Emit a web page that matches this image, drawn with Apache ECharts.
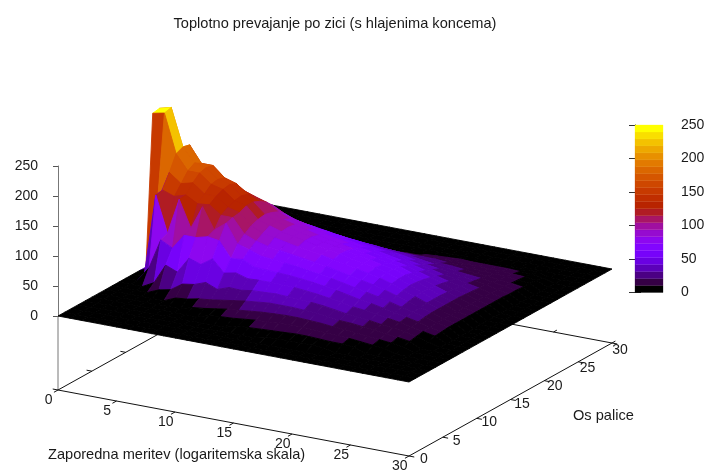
<!DOCTYPE html>
<html><head><meta charset="utf-8">
<style>html,body{margin:0;padding:0;background:#fff}#c{width:712px;height:470px}</style>
<script src="https://cdn.jsdelivr.net/npm/echarts@6/dist/echarts.min.js"></script></head>
<body><div id="c"></div>
<script>
const titleText='Toplotno prevajanje po zici (s hlajenima koncema)';
const xName='Zaporedna meritev (logaritemska skala)';
const yName='Os palice';
const xTicks=[0,5,10,15,20,25,30];
const yTicks=[0,5,10,15,20,25,30];
const zMax=250, levels=24;
// z[x][y]: temperature at measurement x, rod position y (0..30)
const z00=[0,0,0,0,0,0,0,0,0,0,0,0,0,0,250,252,60,0,0,0,0,0,0,0,0,0,0,0,0,0,0];
const z01=[0,0,0,0,0,0,0,0,0,0,0,0,10,115,254,257,170,40,5,0,0,0,0,0,0,0,0,0,0,0,0];
const z02=[0,0,0,0,0,0,0,0,0,0,25,140,142,165,190,195,192,120,45,8,0,0,0,0,0,0,0,0,0,0,0];
const z03=[0,0,0,0,0,0,0,0,0,10,75,80,135,150,165,172,165,120,65,15,0,0,0,0,0,0,0,0,0,0,0];
const z04=[0,0,0,0,0,0,0,0,8,43,65,140,141,155,165,168,165,130,80,30,8,0,0,0,0,0,0,0,0,0,0];
const z05=[0,0,0,0,0,0,0,0,12,35,90,96,130,140,150,152,148,125,90,45,12,0,0,0,0,0,0,0,0,0,0];
const z06=[0,0,0,0,0,0,0,8,25,62,90,135,132,140,145,147,142,125,100,60,22,8,0,0,0,0,0,0,0,0,0];
const z07=[0,0,0,0,0,0,0,10,28,55,95,100,118,125,130,132,128,118,98,68,32,12,0,0,0,0,0,0,0,0,0];
const z08=[0,0,0,0,0,0,6,14,35,68,92,115,118,120,125,125,120,112,100,78,52,28,10,0,0,0,0,0,0,0,0];
const z09=[0,0,0,0,0,0,8,16,27,48,66,84,94,102,106,108,105,100,90,76,58,38,18,7,0,0,0,0,0,0,0];
const z10=[0,0,0,0,0,6,11,19,34,52,68,78,86,93,99,100,97,92,83,72,58,42,26,11,0,0,0,0,0,0,0];
const z11=[0,0,0,0,0,8,14,22,33,46,59,71,81,89,93,94,92,87,79,69,57,44,30,15,6,0,0,0,0,0,0];
const z12=[0,0,0,0,0,9,16,25,36,47,58,69,78,85,89,89,87,82,75,66,55,43,30,17,7,0,0,0,0,0,0];
const z13=[0,0,0,0,6,11,18,27,37,47,57,67,75,81,85,85,82,78,71,63,53,42,31,19,9,0,0,0,0,0,0];
const z14=[0,0,0,0,7,13,20,29,38,47,56,65,72,78,81,81,78,74,67,60,51,41,30,20,11,0,0,0,0,0,0];
const z15=[0,0,0,0,8,14,21,29,37,46,54,62,69,75,78,78,74,70,64,57,49,40,30,21,12,6,0,0,0,0,0];
const z16=[0,0,0,5,9,15,22,29,36,44,52,59,66,71,74,73,70,66,60,54,46,38,29,20,13,7,0,0,0,0,0];
const z17=[0,0,0,5,10,16,22,28,35,42,49,56,62,67,70,69,66,62,57,51,44,36,28,20,13,8,0,0,0,0,0];
const z18=[0,0,0,6,11,16,21,27,33,39,46,52,58,63,66,65,62,58,53,47,41,34,27,20,14,9,0,0,0,0,0];
const z19=[0,0,0,6,11,15,20,25,30,36,42,48,54,59,62,61,58,54,49,43,37,31,25,20,15,10,5,0,0,0,0];
const z20=[0,0,0,6,10,14,18,22,27,32,38,44,50,55,58,58,55,50,45,39,33,28,23,18,14,11,7,0,0,0,0];
const z21=[0,0,0,5,9,13,17,21,25,30,35,40,45,49,51,51,48,44,40,35,30,26,22,17,13,10,7,0,0,0,0];
const z22=[0,0,0,0,9,12,15,19,23,27,31,35,39,42,44,43,41,38,34,30,27,23,20,16,13,10,7,0,0,0,0];
const z23=[0,0,0,0,7,10,13,17,20,24,27,30,33,35,36,36,34,32,29,27,24,21,18,15,12,10,7,0,0,0,0];
const z24=[0,0,0,0,0,8,11,14,18,21,23,25,27,28,28,28,27,26,25,23,21,19,16,14,12,10,7,0,0,0,0];
const z25=[0,0,0,0,0,6,9,12,15,17,19,21,22,22,22,22,22,21,20,19,18,16,14,13,11,9,6,0,0,0,0];
const z26=[0,0,0,0,0,0,6,9,11,13,14,15,15,15,15,15,15,15,15,14,14,13,12,11,10,8,5,0,0,0,0];
const z27=[0,0,0,0,0,0,0,0,6,9,10,11,11,11,11,11,11,11,11,11,10,10,9,9,8,6,0,0,0,0,0];
const z28=[0,0,0,0,0,0,0,0,0,0,0,0,0,0,0,0,0,0,0,0,0,0,0,0,0,0,0,0,0,0,0];
const z29=z28, z30=z28;
const heat=[z00,z01,z02,z03,z04,z05,z06,z07,z08,z09,z10,z11,z12,z13,z14,z15,z16,z17,z18,z19,z20,z21,z22,z23,z24,z25,z26,z27,z28,z29,z30];

const xStep=[351/30,66/30], yStep=[203/30,-113/30], zScale=0.6, baseZ=-(390-316)/zScale;
const view=(x,y,z)=>[x*xStep[0]+y*yStep[0], z-(x*xStep[1]+y*yStep[1])/zScale];
function colorOf(v){
  const i=Math.max(0,Math.min(levels-1,Math.floor(v/zMax*levels)));
  const g=i/(levels-1);
  const r=Math.sqrt(g),gg=g*g*g,b=Math.max(0,Math.sin(2*Math.PI*g));
  return 'rgb('+Math.round(r*255)+','+Math.round(gg*255)+','+Math.round(b*255)+')';
}
const quads=[];
for(let y=29;y>=0;y--)for(let x=0;x<30;x++)quads.push([x,y]);
const frame=[[0,0,30,0],[30,0,30,30],[0,0,0,30],[0,30,30,30]];
xTicks.forEach(t=>{frame.push([t,0,t,-0.6]);frame.push([t,30,t,30.5]);});
yTicks.forEach(t=>{frame.push([30,t,30.45,t]);frame.push([0,t,-0.45,t]);});
const bands=[];for(let i=0;i<levels;i++)bands.push(i);

const line=(p,q,stroke,w)=>({type:'line',shape:{x1:p[0],y1:p[1],x2:q[0],y2:q[1]},style:{stroke:stroke,lineWidth:w}});
const labelStyle={fontFamily:'Liberation Sans',fontSize:14,fill:'#1a1a1a'};
const tickLabel=(text,c,dx,dy)=>({type:'text',x:c[0]+dx,y:c[1]+dy,style:Object.assign({text:text,textAlign:'center',textVerticalAlign:'middle'},labelStyle)});
const chart=echarts.init(document.getElementById('c'),null,{renderer:'canvas'});
chart.setOption({
  animation:false,
  backgroundColor:'#fff',
  title:{text:titleText,left:330,top:11,textAlign:'center',textStyle:{fontFamily:'Liberation Sans',fontSize:14.6,fontWeight:'normal',color:'#1a1a1a'}},
  graphic:[
    {type:'text',left:48,top:447,style:{text:xName,fontFamily:'Liberation Sans',fontSize:14.6,fill:'#1a1a1a'}},
    {type:'text',left:573,top:408,style:{text:yName,fontFamily:'Liberation Sans',fontSize:14.6,fill:'#1a1a1a'}}
  ],
  grid:[
    {left:58,top:166,width:552,height:150},
    {left:635,top:125,width:28,height:167.5}
  ],
  xAxis:[
    {gridIndex:0,type:'value',min:0,max:552,show:false},
    {gridIndex:1,type:'value',min:0,max:1,show:false}
  ],
  yAxis:[
    {gridIndex:0,type:'value',min:0,max:zMax,interval:50,splitLine:{show:false},
     axisLine:{show:true,lineStyle:{color:'#777',width:1}},axisTick:{show:true,length:5,lineStyle:{color:'#555'}},
     axisLabel:{margin:20,fontFamily:'Liberation Sans',fontSize:14,color:'#1a1a1a'}},
    {gridIndex:1,type:'value',min:0,max:zMax,interval:50,position:'right',splitLine:{show:false},
     axisLine:{show:true,lineStyle:{color:'#666'}},axisTick:{show:true,length:6,lineStyle:{color:'#333'}},
     axisLabel:{margin:18,fontFamily:'Liberation Sans',fontSize:14,color:'#1a1a1a'}},
    {gridIndex:1,type:'value',min:0,max:zMax,interval:50,position:'left',splitLine:{show:false},
     axisLine:{show:true,lineStyle:{color:'#666'}},axisTick:{show:true,length:6,lineStyle:{color:'#333'}},axisLabel:{show:false}}
  ],
  series:[
    {type:'custom',coordinateSystem:'cartesian2d',xAxisIndex:0,yAxisIndex:0,z:1,silent:true,data:[[0]],
     renderItem:(p,api)=>line(api.coord([0,baseZ]),api.coord([0,0]),'#777',1)},
    {type:'custom',coordinateSystem:'cartesian2d',xAxisIndex:0,yAxisIndex:0,z:2,silent:true,data:frame,
     renderItem:(p,api)=>{
       const f=frame[p.dataIndex];
       return line(api.coord(view(f[0],f[1],baseZ)),api.coord(view(f[2],f[3],baseZ)),'#111',1);
     }},
    {type:'custom',coordinateSystem:'cartesian2d',xAxisIndex:0,yAxisIndex:0,z:3,silent:true,data:quads,
     renderItem:(p,api)=>{
       const [x,y]=quads[p.dataIndex];
       const h=[heat[x][y],heat[x+1][y],heat[x+1][y+1],heat[x][y+1]];
       const c=colorOf((h[0]+h[1]+h[2]+h[3])/4);
       const pts=[view(x,y,h[0]),view(x+1,y,h[1]),view(x+1,y+1,h[2]),view(x,y+1,h[3])].map(q=>api.coord(q));
       return {type:'polygon',shape:{points:pts},style:{fill:c,stroke:c,lineWidth:0.9}};
     }},
    {type:'custom',coordinateSystem:'cartesian2d',xAxisIndex:0,yAxisIndex:0,z:4,silent:true,data:xTicks,
     renderItem:(p,api)=>{
       const t=xTicks[p.dataIndex];
       return tickLabel(String(t),api.coord(view(t,0,baseZ)),-9.3,10.3);
     }},
    {type:'custom',coordinateSystem:'cartesian2d',xAxisIndex:0,yAxisIndex:0,z:4,silent:true,data:yTicks,
     renderItem:(p,api)=>{
       const t=yTicks[p.dataIndex];
       return tickLabel(String(t),api.coord(view(30,t,baseZ)),15-0.23*t,3+0.13*t);
     }},
    {type:'custom',coordinateSystem:'cartesian2d',xAxisIndex:1,yAxisIndex:1,z:3,silent:true,data:bands,
     renderItem:(p,api)=>{
       const i=p.dataIndex;
       const lo=api.coord([0,i/levels*zMax]),hi=api.coord([1,(i+1)/levels*zMax]);
       const c=colorOf((i+0.5)/levels*zMax);
       return {type:'rect',shape:{x:lo[0],y:hi[1],width:hi[0]-lo[0],height:lo[1]-hi[1]},style:{fill:c,stroke:c,lineWidth:0.3}};
     }}
  ]
});
</script></body></html>
